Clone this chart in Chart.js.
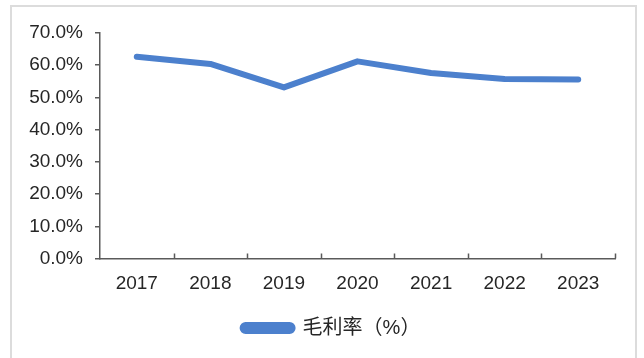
<!DOCTYPE html>
<html>
<head>
<meta charset="utf-8">
<script src="https://cdn.jsdelivr.net/npm/chart.js@4/dist/chart.umd.min.js"></script>
<style>
  html, body { margin: 0; padding: 0; background: #ffffff; }
  body { width: 644px; height: 358px; position: relative; overflow: hidden; }
  #frame {
    position: absolute; left: 10px; top: 5px; width: 627px; height: 400px;
    border: 2px solid #dcdcdc; border-bottom: none; box-sizing: border-box;
  }
  #wrap { position: absolute; left: 0; top: 0; width: 644px; height: 358px; }
</style>
</head>
<body>
<div id="frame"></div>
<div id="wrap"><canvas id="c" width="644" height="358"></canvas></div>
<script>
// Years on the category axis
const years = ['2017', '2018', '2019', '2020', '2021', '2022', '2023'];
// Gross margin, percent
const grossMargin = [62.6, 60.4, 53.1, 61.2, 57.6, 55.7, 55.6];
const seriesName = '毛利率（%）';
// Value axis range, percent
const yMin = 0, yMax = 70, yStep = 10;

const blue = '#4c80cd';
const axisGray = '#5a5a5a';
const textColor = '#262626';
const numFont = 'Liberation Sans, Arial, sans-serif';

// Short inward ticks on the category axis, at the boundaries between categories
const innerTicks = {
  id: 'innerTicks',
  afterDatasetsDraw(chart) {
    const x = chart.scales.x;
    const n = x.ticks.length;
    const ctx = chart.ctx;
    const base = chart.chartArea.bottom;
    const step = (x.right - x.left) / n;
    ctx.save();
    ctx.strokeStyle = axisGray;
    ctx.lineWidth = 1.5;
    ctx.beginPath();
    for (let i = 1; i <= n; i++) {
      const px = Math.round(x.left + i * step) + 0.5;
      ctx.moveTo(px, base);
      ctx.lineTo(px, base - 5);
    }
    ctx.stroke();
    ctx.restore();
  }
};

// Centre the legend under the plot rather than under the whole canvas
const legendShift = {
  id: 'legendShift',
  afterLayout(chart) {
    if (chart.legend) chart.legend.left += 48;
  }
};

new Chart(document.getElementById('c'), {
  type: 'line',
  data: {
    labels: years,
    datasets: [{
      label: seriesName,
      data: grossMargin,
      borderColor: blue,
      backgroundColor: blue,
      borderWidth: 6,
      borderCapStyle: 'round',
      borderJoinStyle: 'round',
      tension: 0,
      pointRadius: 0,
      pointHoverRadius: 0,
      fill: false
    }]
  },
  options: {
    responsive: false,
    animation: false,
    events: [],
    layout: { padding: { left: 0, right: 29, top: 33, bottom: 10 } },
    plugins: {
      tooltip: { enabled: false },
      legend: {
        position: 'bottom',
        labels: {
          boxWidth: 50,
          boxHeight: 6,
          useBorderRadius: true,
          borderRadius: 3,
          padding: 10,
          color: textColor,
          font: { family: 'Liberation Sans, "Noto Sans CJK SC", sans-serif', size: 20 }
        }
      }
    },
    scales: {
      x: {
        type: 'category',
        offset: true,
        grid: { display: false },
        border: { display: true, color: axisGray, width: 1.5 },
        ticks: {
          color: textColor,
          padding: 6,
          maxRotation: 0,
          font: { family: numFont, size: 19 }
        },
        afterFit(scale) { scale.height = 49.5; }
      },
      y: {
        min: yMin,
        max: yMax,
        grid: {
          drawOnChartArea: false,
          drawTicks: true,
          tickLength: 5,
          color: axisGray,
          lineWidth: 1.5
        },
        border: { display: true, color: axisGray, width: 1.5 },
        ticks: {
          stepSize: yStep,
          color: textColor,
          padding: 12,
          font: { family: numFont, size: 19 },
          callback: v => v.toFixed(1) + '%'
        },
        afterFit(scale) { scale.width = 100; }
      }
    }
  },
  plugins: [innerTicks, legendShift]
});
</script>
</body>
</html>
